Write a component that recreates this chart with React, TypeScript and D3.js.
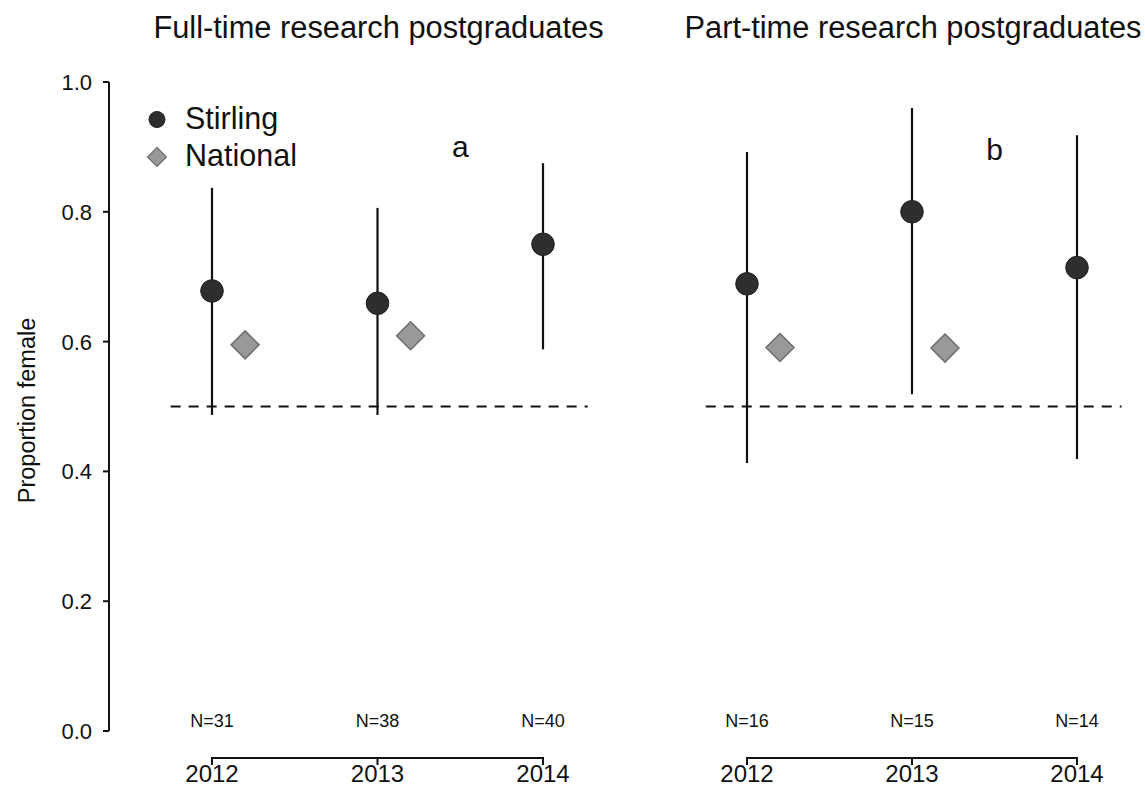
import React from "react";
import * as d3 from "d3";

const years = [2012, 2013, 2014];
const yTicks = [0, 0.2, 0.4, 0.6, 0.8, 1.0];

const fullStirling = [0.678, 0.659, 0.750];
const fullLower = [0.487, 0.487, 0.588];
const fullUpper = [0.837, 0.806, 0.875];
const fullNational: (number | null)[] = [0.595, 0.609, null];
const fullN = [31, 38, 40];

const partStirling = [0.689, 0.800, 0.714];
const partLower = [0.413, 0.519, 0.419];
const partUpper = [0.892, 0.960, 0.918];
const partNational: (number | null)[] = [0.591, 0.590, null];
const partN = [16, 15, 14];

const panelTitles = ["Full-time research postgraduates", "Part-time research postgraduates"];
const panelLetters = ["a", "b"];
const legendLabels = ["Stirling", "National"];
const nationalOffset = 0.2;
const refLine = 0.5;

const FONT = "'Liberation Sans', Arial, Helvetica, sans-serif";

const y = d3.scaleLinear().domain([0, 1]).range([731, 82]);

type Panel = {
  title: string;
  letter: string;
  stirling: number[];
  lower: number[];
  upper: number[];
  national: (number | null)[];
  n: number[];
  range: [number, number];
  showY: boolean;
};

const panels: Panel[] = [
  { title: panelTitles[0], letter: panelLetters[0], stirling: fullStirling, lower: fullLower, upper: fullUpper, national: fullNational, n: fullN, range: [212, 543], showY: true },
  { title: panelTitles[1], letter: panelLetters[1], stirling: partStirling, lower: partLower, upper: partUpper, national: partNational, n: partN, range: [747, 1077], showY: false },
];

function diamond(cx: number, cy: number, r: number) {
  return `M${cx},${cy - r}L${cx + r},${cy}L${cx},${cy + r}L${cx - r},${cy}Z`;
}

function PanelView({ p }: { p: Panel }) {
  const x = d3.scaleLinear().domain([years[0], years[years.length - 1]]).range(p.range);
  const mid = (p.range[0] + p.range[1]) / 2;
  return (
    <g>
      <text x={mid + 1} y={38} textAnchor="middle" fontSize={30.8} fontFamily={FONT} fill="#111">{p.title}</text>
      <text x={x(2013.5)} y={p.showY ? 157 : 160} textAnchor="middle" fontSize={30} fontFamily={FONT} fill="#111">{p.letter}</text>
      {/* reference line */}
      <line x1={x(years[0] - 0.25)} x2={x(years[years.length - 1] + 0.27)} y1={y(refLine)} y2={y(refLine)} stroke="#111" strokeWidth={2} strokeDasharray="10,8" />
      {/* error bars */}
      {years.map((yr, i) => (
        <line key={"e" + yr} x1={x(yr)} x2={x(yr)} y1={y(p.lower[i])} y2={y(p.upper[i])} stroke="#111" strokeWidth={2.2} />
      ))}
      {/* national */}
      {years.map((yr, i) => p.national[i] == null ? null : (
        <path key={"n" + yr} d={diamond(x(yr + nationalOffset), y(p.national[i] as number), 14)} fill="#999999" stroke="#6e6e6e" strokeWidth={1.5} />
      ))}
      {/* stirling */}
      {years.map((yr, i) => (
        <circle key={"s" + yr} cx={x(yr)} cy={y(p.stirling[i])} r={11.3} fill="#2e2e2e" stroke="#1e1e1e" strokeWidth={1} />
      ))}
      {/* N labels */}
      {years.map((yr, i) => (
        <text key={"N" + yr} x={x(yr)} y={727} textAnchor="middle" fontSize={18} fontFamily={FONT} fill="#111">{`N=${p.n[i]}`}</text>
      ))}
      {/* x axis */}
      <path d={`M${x(years[0])},765V758H${x(years[years.length - 1])}V765`} fill="none" stroke="#111" strokeWidth={2} />
      {years.map((yr) => (
        <g key={"xt" + yr}>
          <line x1={x(yr)} x2={x(yr)} y1={758} y2={765} stroke="#111" strokeWidth={2} />
          <text x={x(yr)} y={782} textAnchor="middle" fontSize={24} fontFamily={FONT} fill="#111">{yr}</text>
        </g>
      ))}
    </g>
  );
}

export default function App() {
  return (
    <svg width={1145} height={787} style={{ position: "absolute", left: 0, top: 0, background: "#fff" }}>
      <rect width={1145} height={787} fill="#fff" />
      {/* y axis */}
      <g>
        <line x1={109} x2={109} y1={y(0)} y2={y(1)} stroke="#111" strokeWidth={2} />
        {yTicks.map((t) => (
          <g key={t}>
            <line x1={103} x2={109} y1={y(t)} y2={y(t)} stroke="#111" strokeWidth={2} />
            <text x={92} y={y(t)} dy="0.36em" textAnchor="end" fontSize={22} fontFamily={FONT} fill="#111">{t.toFixed(1)}</text>
          </g>
        ))}
        <text transform={`translate(35,${(y(0) + y(1)) / 2 + 4}) rotate(-90)`} textAnchor="middle" fontSize={23.5} fontFamily={FONT} fill="#111">Proportion female</text>
      </g>
      {panels.map((p, i) => <PanelView key={i} p={p} />)}
      {/* legend */}
      <g>
        <circle cx={157} cy={119.5} r={8} fill="#2e2e2e" stroke="#1e1e1e" strokeWidth={1} />
        <text x={185} y={129} fontSize={30.5} fontFamily={FONT} fill="#111">{legendLabels[0]}</text>
        <path d={diamond(157, 157, 9.5)} fill="#999999" stroke="#6e6e6e" strokeWidth={1.2} />
        <text x={185} y={166} fontSize={30.5} fontFamily={FONT} fill="#111">{legendLabels[1]}</text>
      </g>
    </svg>
  );
}
